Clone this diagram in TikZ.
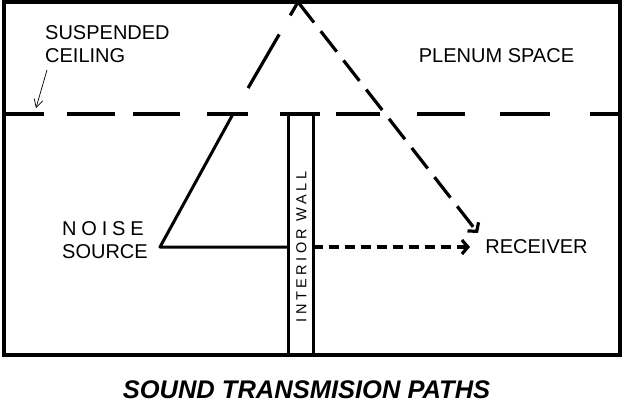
\documentclass[tikz,border=0pt]{standalone}
\usepackage{fontspec}
\setmainfont{Liberation Sans}
\usetikzlibrary{arrows.meta}

\begin{document}
\begin{tikzpicture}[x=1pt,y=-1pt,
  txt/.style={inner sep=0pt, font=\fontsize{20}{23}\selectfont},
  frame/.style={line width=3.5pt},
  ceiling/.style={line width=4pt},
  wall/.style={line width=3pt},
  solidpath/.style={line width=3pt, line join=round},
  longdash/.style={line width=3.2pt, dash pattern=on 0pt off 30pt on 62pt off 22pt on 30pt},
  airdash/.style={line width=3.2pt, dash pattern=on 26pt off 11pt, -{Straight Barb[length=6pt,width=14pt]}},
  walldash/.style={line width=3.2pt, dash pattern=on 10pt off 6pt, -{Straight Barb[length=6pt,width=14pt]}},
  pointer/.style={line width=0.7pt, -{Straight Barb[length=8pt,width=9pt]}}]
\useasboundingbox (0,0) rectangle (624,413);

% room and ceiling
\draw[frame] (4,2) rectangle (620,355);
\foreach \a/\b in {4/44,67/115,133/180,207/248,280/320,336/380,417/465,500/550,590/620}
  \draw[ceiling] (\a,114) -- (\b,114);
\draw[wall] (288,114) -- (288,355);
\draw[wall] (313,114) -- (313,355);

% points on the paths
\coordinate (NS) at (160,247);
\coordinate (C1) at (233,114);
\coordinate (A)  at (298,2);
\coordinate (W1) at (288,247);
\coordinate (W2) at (313,247);
\coordinate (R1) at (478,233);
\coordinate (R2) at (470,247);
\coordinate (P0) at (47,70);
\coordinate (P1) at (36,108);

% labels
\node(SC)  [txt, anchor=north west, align=left] at (45,25)   {SUSPENDED\\CEILING};
\node(PS)  [txt]                                at (496.5,55.5) {PLENUM SPACE};
\node(NSL) [txt, anchor=north west, align=left] at (62,221.5) {{\addfontfeature{LetterSpace=24}NOISE}\\SOURCE};
\node(RL)  [txt]                                at (536.5,246.5) {RECEIVER};
\node(IW)  [inner sep=0pt, rotate=90, font=\fontsize{14.5}{17}\selectfont\addfontfeature{LetterSpace=24}] at (301.5,247) {INTERIOR WALL};
\node(T)   [inner sep=0pt, font=\fontsize{25.5}{30}\selectfont\bfseries\itshape] at (306.5,390) {SOUND TRANSMISION PATHS};

% transmission paths
\draw[solidpath] (C1) -- (NS) -- (W1);
\draw[longdash]  (C1) -- (A);
\draw[airdash]   (A)  -- (R1);
\draw[walldash]  (W2) -- (R2);
\draw[pointer]   (P0) -- (P1);
\end{tikzpicture}
\end{document}
